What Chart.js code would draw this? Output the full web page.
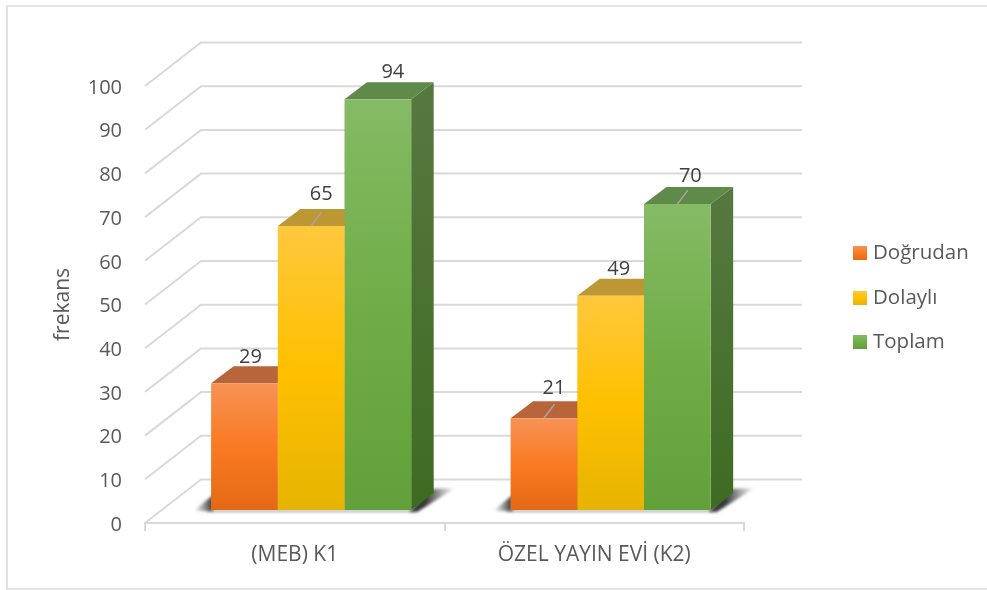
<!DOCTYPE html>
<html lang="tr">
<head>
  <meta charset="UTF-8">
  <title>frekans</title>
  <script src="https://cdn.jsdelivr.net/npm/chart.js"></script>
  <style>
    html, body { margin: 0; padding: 0; background: #fff; }
    canvas { display: block; }
  </style>
</head>
<body>
  <canvas id="chart" width="987" height="590"></canvas>
  <script>
    const categories = ['(MEB) K1', 'ÖZEL YAYIN EVİ (K2)'];
    const dogrudan = [29, 21];
    const dolayli = [65, 49];
    const toplam = [94, 70];

    const FONT = '"Open Sans", sans-serif';
    const GRID = '#d9d9d9';

    // fake 3D: wall depth, then where the bar front sits and how deep the bar is
    const wall = { dx: 56, dy: -43.5 };
    const front = { dx: 16.4, dy: -13 };
    const depth = { dx: 22.5, dy: -17 };

    // [dx, dy] of each value label from the top centre of its bar, and leader line yes/no
    const labelShift = [
      [[6, -26], [10, -30]],
      [[10, -32], [8, -27]],
      [[15, -27], [13, -28]]
    ];
    const leaders = [[false, true], [true, false], [false, true]];

    const styles = [
      { stops: ['#f79256', '#f97a22', '#e56914'], top: '#b9653c', side: ['#a85a2c', '#8a4a1c'] },
      { stops: ['#ffc83d', '#ffc000', '#e6b400'], top: '#bd9733', side: ['#a88a2c', '#8a7010'] },
      { stops: ['#85bb65', '#70ad47', '#62a03a'], top: '#5f8a49', side: ['#55783f', '#3e6b22'] }
    ];

    function barFill(style) {
      return c => {
        if (c.type !== 'data' || !c.chart.chartArea) return style.stops[1];
        const y = c.chart.scales.y;
        const y1 = y.getPixelForValue(c.raw);
        const y2 = y.getPixelForValue(0);
        if (!isFinite(y1) || !isFinite(y2)) return style.stops[1];
        const g = c.chart.ctx.createLinearGradient(0, y1, 0, y2);
        style.stops.forEach((s, i) => g.addColorStop(i / 2, s));
        return g;
      };
    }

    function poly(ctx, pts, fill) {
      ctx.beginPath();
      pts.forEach((p, i) => i ? ctx.lineTo(p[0], p[1]) : ctx.moveTo(p[0], p[1]));
      ctx.closePath();
      ctx.fillStyle = fill;
      ctx.fill();
    }

    const scene3d = {
      id: 'scene3d',
      beforeDraw(chart) {
        const { ctx, chartArea: a, scales: { y } } = chart;
        ctx.save();
        // picture frame, open on the right
        ctx.strokeStyle = '#e2e2e2';
        ctx.lineWidth = 2;
        ctx.beginPath();
        ctx.moveTo(987, 6);
        ctx.lineTo(7, 6);
        ctx.lineTo(7, 589);
        ctx.lineTo(987, 589);
        ctx.stroke();
        ctx.strokeStyle = GRID;
        ctx.lineWidth = 2;
        y.ticks.forEach(t => {
          const py = y.getPixelForValue(t.value);
          ctx.beginPath();
          ctx.moveTo(a.left, py);
          ctx.lineTo(a.left + wall.dx, py + wall.dy);
          ctx.lineTo(a.right + wall.dx + 2, py + wall.dy);
          ctx.stroke();
        });
        ctx.restore();
      },
      beforeDatasetsDraw(chart) {
        const { ctx } = chart;
        const y0 = chart.scales.y.getPixelForValue(0) + front.dy;
        ctx.save();
        // floor shadow
        const first = chart.getDatasetMeta(0).data;
        const last = chart.getDatasetMeta(2).data;
        ctx.save();
        ctx.filter = 'blur(1.5px)';
        first.forEach((bar, i) => {
          const l = bar.x - bar.width / 2 + front.dx;
          const r = last[i].x + last[i].width / 2 + front.dx;
          let g = ctx.createLinearGradient(l - 17, 0, l, 0);
          g.addColorStop(0, 'rgba(70,70,70,0)');
          g.addColorStop(1, 'rgba(50,50,50,0.9)');
          poly(ctx, [[l - 18, y0 + 1], [l + 2, y0 + 1], [l + 2, y0 - 15]], g);
          g = ctx.createLinearGradient(r + 14, 0, r + 44, 0);
          g.addColorStop(0, 'rgba(45,45,45,0.95)');
          g.addColorStop(1, 'rgba(70,70,70,0)');
          poly(ctx, [[r - 2, y0 + 2], [r + 6, y0 + 2], [r + 44, y0 - 22], [r + 20, y0 - 21]], g);
          ctx.fillStyle = 'rgba(90,90,90,0.55)';
          ctx.fillRect(l - 4, y0, r - l + 6, 2);
        });
        ctx.restore();
        // tops and sides behind the fronts
        chart.data.datasets.forEach((ds, d) => {
          chart.getDatasetMeta(d).data.forEach(bar => {
            const l = bar.x - bar.width / 2 + front.dx;
            const r = bar.x + bar.width / 2 + front.dx;
            const t = bar.y + front.dy;
            const g = ctx.createLinearGradient(0, t, 0, y0);
            g.addColorStop(0, styles[d].side[0]);
            g.addColorStop(1, styles[d].side[1]);
            poly(ctx, [[r, t], [r + depth.dx, t + depth.dy], [r + depth.dx, y0 + depth.dy], [r, y0]], g);
            poly(ctx, [[l, t], [l + depth.dx, t + depth.dy], [r + depth.dx, t + depth.dy], [r, t]], styles[d].top);
          });
        });
        // native bars get drawn shifted onto the bar front plane
        ctx.translate(front.dx, front.dy);
      },
      afterDatasetsDraw(chart) {
        const { ctx } = chart;
        ctx.restore();
        ctx.save();
        ctx.font = '20px ' + FONT;
        ctx.textAlign = 'center';
        ctx.textBaseline = 'middle';
        chart.data.datasets.forEach((ds, d) => {
          chart.getDatasetMeta(d).data.forEach((bar, i) => {
            const cx = bar.x + front.dx;
            const t = bar.y + front.dy;
            if (leaders[d][i]) {
              ctx.strokeStyle = '#a6a6a6';
              ctx.lineWidth = 1.5;
              ctx.beginPath();
              ctx.moveTo(cx, t);
              ctx.lineTo(cx + 10.5, t - 14);
              ctx.stroke();
            }
            ctx.fillStyle = '#404040';
            ctx.fillText(String(ds.data[i]), cx + labelShift[d][i][0], t + labelShift[d][i][1]);
          });
        });
        // legend on the right
        const rows = [253, 298, 342];
        ctx.font = '20.5px ' + FONT;
        ctx.textAlign = 'left';
        chart.data.datasets.forEach((ds, d) => {
          const g = ctx.createLinearGradient(0, rows[d] - 7, 0, rows[d] + 7);
          styles[d].stops.forEach((s, i) => g.addColorStop(i / 2, s));
          ctx.fillStyle = g;
          ctx.fillRect(853, rows[d] - 7, 14, 14);
          ctx.fillStyle = '#595959';
          ctx.fillText(ds.label, 873, rows[d]);
        });
        ctx.restore();
      }
    };

    new Chart(document.getElementById('chart'), {
      type: 'bar',
      data: {
        labels: categories,
        datasets: [
          { label: 'Doğrudan', data: dogrudan, backgroundColor: barFill(styles[0]) },
          { label: 'Dolaylı', data: dolayli, backgroundColor: barFill(styles[1]) },
          { label: 'Toplam', data: toplam, backgroundColor: barFill(styles[2]) }
        ]
      },
      options: {
        responsive: false,
        animation: false,
        layout: { padding: { top: 86, right: 243, bottom: 0, left: 0 } },
        datasets: { bar: { categoryPercentage: 0.668, barPercentage: 1 } },
        plugins: { legend: { display: false }, tooltip: { enabled: false } },
        scales: {
          x: {
            grid: { offset: true, drawOnChartArea: false, color: GRID, lineWidth: 2, tickLength: 8 },
            border: { color: GRID, width: 2 },
            ticks: { color: '#595959', font: { family: FONT, size: 21 }, padding: 11, maxRotation: 0 },
            afterFit: s => { s.height = 67; }
          },
          y: {
            min: 0,
            max: 100,
            grid: { display: false },
            border: { display: false },
            ticks: { stepSize: 10, color: '#595959', font: { family: FONT, size: 20 }, padding: 15, labelOffset: 2 },
            title: { display: true, text: 'frekans', color: '#595959', font: { family: FONT, size: 21 }, padding: { top: 50, bottom: 0 } },
            afterFit: s => { s.width = 145; }
          }
        }
      },
      plugins: [scene3d]
    });
  </script>
</body>
</html>
